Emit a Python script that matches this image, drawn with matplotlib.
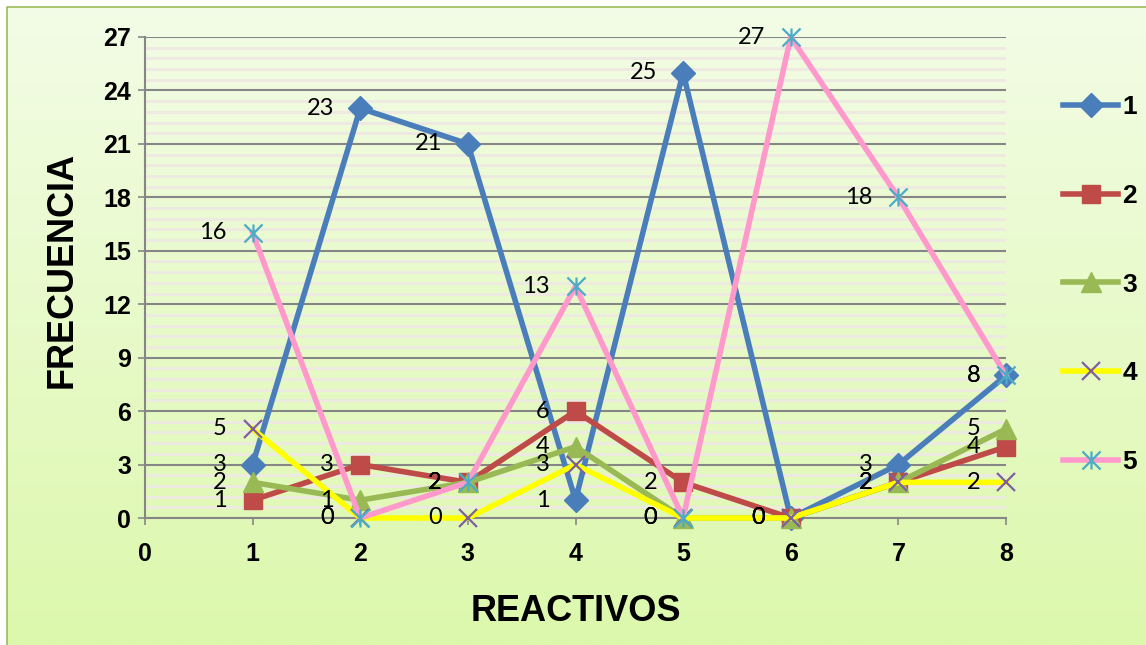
import numpy as np
import matplotlib.pyplot as plt
from matplotlib.path import Path

# datos
reactivos = [1, 2, 3, 4, 5, 6, 7, 8]
serie1 = [3, 23, 21, 1, 25, 0, 3, 8]
serie2 = [1, 3, 2, 6, 2, 0, 2, 4]
serie3 = [2, 1, 2, 4, 0, 0, 2, 5]
serie4 = [5, 0, 0, 3, 0, 0, 2, 2]
serie5 = [16, 0, 2, 13, 0, 27, 18, 8]
nombres = ["1", "2", "3", "4", "5"]
yticks = [0, 3, 6, 9, 12, 15, 18, 21, 24, 27]
xticks = [0, 1, 2, 3, 4, 5, 6, 7, 8]

# marcador estrella tipo Excel (X + linea vertical)
estrella = Path([(-1, -1), (1, 1), (-1, 1), (1, -1), (0, -1), (0, 1)],
                [Path.MOVETO, Path.LINETO, Path.MOVETO, Path.LINETO, Path.MOVETO, Path.LINETO])

estilos = [
    dict(color="#4A7EBB", marker="D", ms=12, mfc="#4A7EBB", mec="#4A7EBB"),
    dict(color="#BE4B48", marker="s", ms=13, mfc="#BE4B48", mec="#BE4B48"),
    dict(color="#98B954", marker="^", ms=15, mfc="#98B954", mec="#98B954"),
    dict(color="#FFFF00", marker="x", ms=13, mec="#7D60A0", mew=1.6),
    dict(color="#FF99CC", marker=estrella, ms=13, mec="#4BACC6", mew=1.6),
]

W, H = 1146, 645
fig = plt.figure(figsize=(W / 100, H / 100), dpi=100)
fig.patch.set_facecolor("white")

# fondo degradado
bg = fig.add_axes([0, 0, 1, 1], zorder=-5)
bg.set_xlim(0, W)
bg.set_ylim(H, 0)
bg.axis("off")
grad = np.linspace(0, 1, 256).reshape(-1, 1)
top = np.array([0xF3, 0xFC, 0xE6]) / 255
bot = np.array([0xDC, 0xF8, 0xAC]) / 255
img = top + (bot - top) * grad[:, :, None]
bg.imshow(img, extent=[7, W, H, 7], aspect="auto")
bg.plot([7, 7, W], [H, 7, 7], color="#9BBB59", lw=1.2)

ax = fig.add_axes([145 / W, 1 - 518 / H, (1006 - 145) / W, (518 - 37) / H])
ax.set_facecolor("none")

series = [serie1, serie2, serie3, serie4, serie5]
for i, (vals, est) in enumerate(zip(series, estilos)):
    ax.plot(reactivos, vals, lw=4, label=nombres[i], zorder=3 + i, clip_on=False, **est)
    for x, y in zip(reactivos, vals):
        ax.annotate(str(y), (x, y), xytext=(-26, 0), textcoords="offset pixels",
                    ha="right", va="center", fontsize=17, family="Lato", zorder=10)

ax.set_xlim(0, 8)
ax.set_ylim(0, 27)
ax.set_xticks(xticks)
ax.set_yticks(yticks)
ax.set_yticks(np.arange(0, 27, 0.6), minor=True)
ax.grid(True, which="major", axis="y", color="#868686", lw=1.5)
ax.grid(True, which="minor", axis="y", color="#EEE9E2", lw=2)
ax.set_axisbelow(True)
ax.tick_params(axis="y", which="minor", length=0)
ax.tick_params(axis="y", which="major", length=5, color="#868686", width=1.2, pad=5)
ax.tick_params(axis="x", length=5, color="#868686", width=1.2, pad=12)
for t in ax.get_xticklabels() + ax.get_yticklabels():
    t.set_fontsize(18)
    t.set_fontweight("bold")
    t.set_family("Liberation Sans")
for s in ["top", "right"]:
    ax.spines[s].set_visible(False)
for s in ["left", "bottom"]:
    ax.spines[s].set_color("#868686")
    ax.spines[s].set_linewidth(1.5)

ax.set_xlabel("REACTIVOS", fontsize=26, fontweight="bold", family="Liberation Sans")
ax.xaxis.set_label_coords(0.5, -0.158)
ax.set_ylabel("FRECUENCIA", fontsize=26, fontweight="bold", family="Liberation Sans", va="center")
ax.yaxis.set_label_coords(-0.096, 0.516)

leg = fig.legend(loc="center left", bbox_to_anchor=(1063 / W, 1 - 284.5 / H), frameon=False,
                 prop=dict(family="Liberation Sans", weight="bold", size=19),
                 handlelength=2.1, labelspacing=2.45, handletextpad=0.15,
                 borderpad=0, borderaxespad=0)

fig.savefig("out.png", dpi=100)
